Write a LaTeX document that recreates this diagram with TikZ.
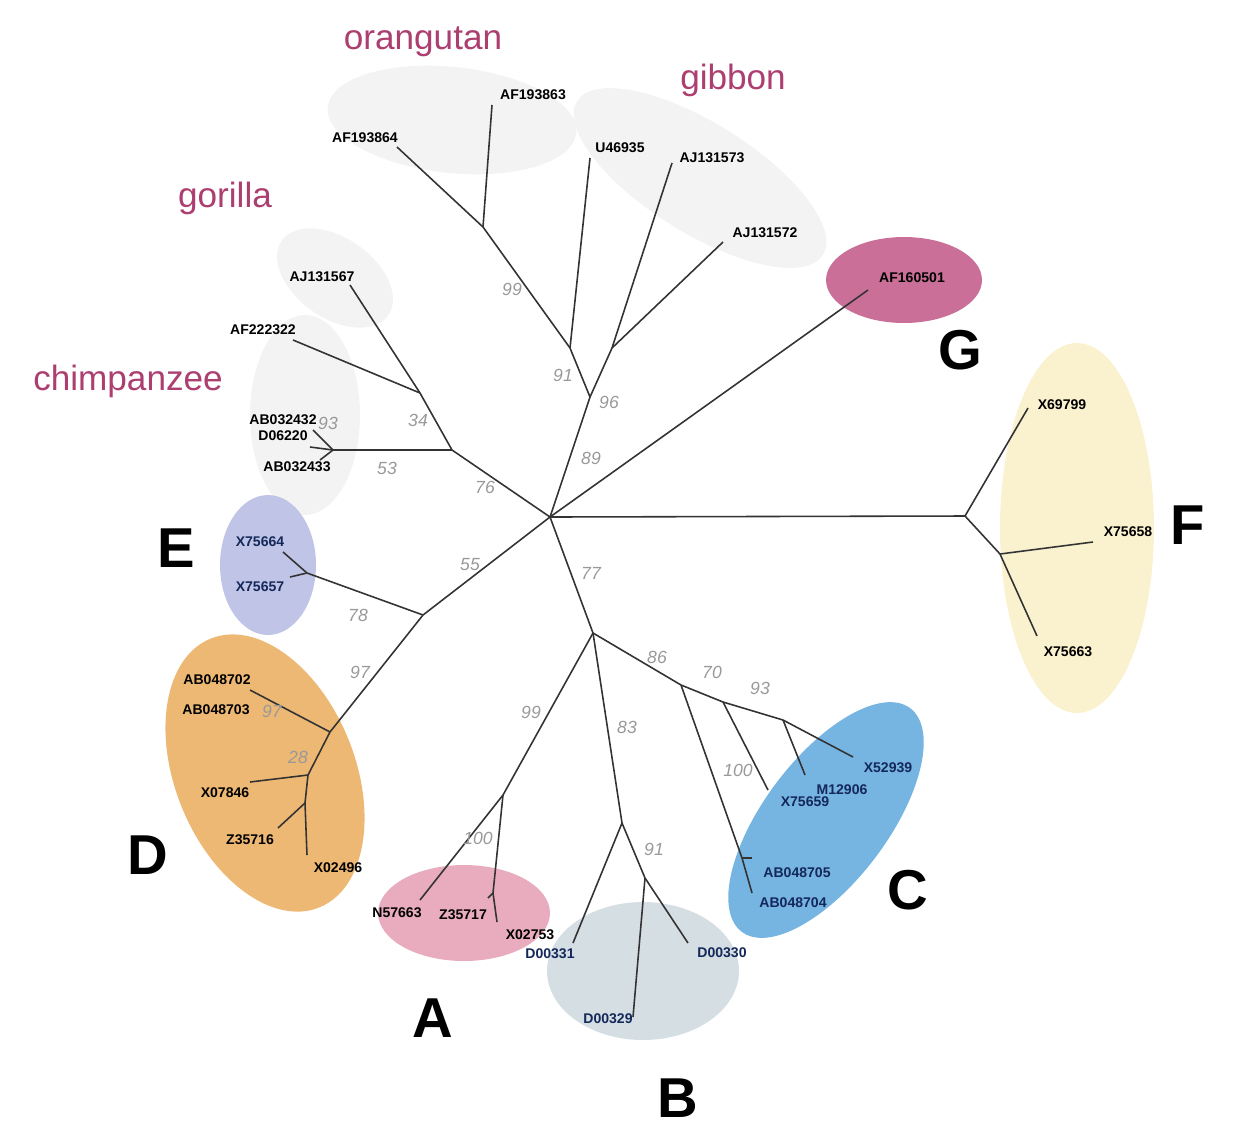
\documentclass[tikz,border=0pt]{standalone}
\usepackage{fontspec}
\setmainfont{Liberation Sans}
\usetikzlibrary{shapes.geometric}

\definecolor{apecol}{RGB}{172,62,112}
\definecolor{hazeA}{RGB}{243,243,244}
\definecolor{colA}{RGB}{232,172,190}
\definecolor{colB}{RGB}{213,222,226}
\definecolor{colC}{RGB}{118,180,226}
\definecolor{colD}{RGB}{236,184,116}
\definecolor{colE}{RGB}{192,196,230}
\definecolor{colF}{RGB}{250,241,206}
\definecolor{colG}{RGB}{202,112,152}
\definecolor{navy}{RGB}{20,40,90}

\begin{document}
\begin{tikzpicture}[x=0.02cm,y=-0.02cm,
    br/.style={draw=black!80,line width=0.9pt},
    leaf/.style={font=\fontsize{8}{9}\selectfont\bfseries,inner sep=0pt},
    boot/.style={font=\fontsize{10}{11}\selectfont\itshape,text=black!40,inner sep=0pt},
    clade/.style={font=\fontsize{32}{36}\selectfont\bfseries,inner sep=0pt},
    ape/.style={font=\fontsize{20}{24}\selectfont,text=apecol,inner sep=0pt},
    blob/.style={ellipse,inner sep=0pt,draw=none}]
    \useasboundingbox (0,0) rectangle (1246,1133);

    \node[blob,fill=hazeA,minimum width=5cm,minimum height=2.12cm,rotate=-6] (bOr) at (452,120) {};
    \node[blob,fill=hazeA,minimum width=5.8cm,minimum height=2.2cm,rotate=-32] (bGib) at (700,178) {};
    \node[blob,fill=hazeA,minimum width=2.6cm,minimum height=1.6cm,rotate=-35] (bGor) at (335,278) {};
    \node[blob,fill=hazeA,minimum width=2.2cm,minimum height=4cm] (bChimp) at (305,415) {};
    \node[blob,fill=colG,minimum width=3.12cm,minimum height=1.72cm] (bG) at (904,280) {};
    \node[blob,fill=colF,minimum width=3.08cm,minimum height=7.4cm] (bF) at (1077,528) {};
    \node[blob,fill=colE,minimum width=1.92cm,minimum height=2.8cm] (bE) at (268,565) {};
    \node[blob,fill=colD,minimum width=3.6cm,minimum height=5.8cm,rotate=22] (bD) at (265,773) {};
    \node[blob,fill=colA,minimum width=3.44cm,minimum height=1.92cm] (bA) at (464,913) {};
    \node[blob,fill=colB,minimum width=3.84cm,minimum height=2.76cm] (bB) at (643,971) {};
    \node[blob,fill=colC,minimum width=5.6cm,minimum height=2.48cm,rotate=53] (bC) at (826,820) {};

    \coordinate (root) at (550,517);
    \coordinate (jF) at (965,516);
    \coordinate (jF2) at (1000,554);
    \coordinate (tX69799) at (1028,408);
    \coordinate (tX75658) at (1093,542);
    \coordinate (tX75663) at (1037,636);
    \coordinate (tAF160501) at (868,290);
    \coordinate (jHom) at (590,397);
    \coordinate (jPon) at (570,348);
    \coordinate (jOr) at (483,227);
    \coordinate (tAF193864) at (397,147);
    \coordinate (tAF193863) at (492,105);
    \coordinate (tU46935) at (590,158);
    \coordinate (jGib) at (612,348);
    \coordinate (tAJ131573) at (672,163);
    \coordinate (tAJ131572) at (723,242);
    \coordinate (jAfr) at (452,450);
    \coordinate (jGor) at (420,393);
    \coordinate (tAJ131567) at (350,285);
    \coordinate (tAF222322) at (293,340);
    \coordinate (jChimp) at (333,450);
    \coordinate (tAB032432) at (313,430);
    \coordinate (tD06220) at (310,447);
    \coordinate (tAB032433) at (320,460);
    \coordinate (jED) at (423,615);
    \coordinate (jE) at (307,573);
    \coordinate (tX75664) at (283,552);
    \coordinate (tX75657) at (290,577);
    \coordinate (jD) at (330,732);
    \coordinate (tAB048702) at (250,690);
    \coordinate (jD2) at (308,775);
    \coordinate (tX07846) at (250,782);
    \coordinate (jD3) at (305,803);
    \coordinate (tZ35716) at (278,828);
    \coordinate (tX02496) at (307,855);
    \coordinate (jLow) at (593,633);
    \coordinate (jA) at (503,795);
    \coordinate (tN57663) at (420,900);
    \coordinate (jZX) at (493,893);
    \coordinate (tZ35717) at (488,898);
    \coordinate (tX02753) at (497,922);
    \coordinate (jB) at (622,823);
    \coordinate (tD00331) at (573,943);
    \coordinate (jB2) at (645,878);
    \coordinate (tD00329) at (633,1017);
    \coordinate (tD00330) at (688,943);
    \coordinate (jC2) at (681,685);
    \coordinate (jC5) at (742,858);
    \coordinate (tAB048705) at (752,858);
    \coordinate (tAB048704) at (752,893);
    \coordinate (jC3) at (723,702);
    \coordinate (tX75659) at (768,790);
    \coordinate (jC4) at (783,720);
    \coordinate (tM12906) at (805,775);
    \coordinate (tX52939) at (853,757);

    \path[br] (root) edge (jF)
              (jF) edge (tX69799)
              (jF) edge (jF2)
              (jF2) edge (tX75658)
              (jF2) edge (tX75663)
              (root) edge (tAF160501)
              (root) edge (jHom)
              (jHom) edge (jPon)
              (jPon) edge (jOr)
              (jOr) edge (tAF193864)
              (jOr) edge (tAF193863)
              (jPon) edge (tU46935)
              (jHom) edge (jGib)
              (jGib) edge (tAJ131573)
              (jGib) edge (tAJ131572)
              (root) edge (jAfr)
              (jAfr) edge (jGor)
              (jGor) edge (tAJ131567)
              (jGor) edge (tAF222322)
              (jAfr) edge (jChimp)
              (jChimp) edge (tAB032432)
              (jChimp) edge (tD06220)
              (jChimp) edge (tAB032433)
              (root) edge (jED)
              (jED) edge (jE)
              (jE) edge (tX75664)
              (jE) edge (tX75657)
              (jED) edge (jD)
              (jD) edge (tAB048702)
              (jD) edge (jD2)
              (jD2) edge (tX07846)
              (jD2) edge (jD3)
              (jD3) edge (tZ35716)
              (jD3) edge (tX02496)
              (root) edge (jLow)
              (jLow) edge (jA)
              (jA) edge (tN57663)
              (jA) edge (jZX)
              (jZX) edge (tZ35717)
              (jZX) edge (tX02753)
              (jLow) edge (jB)
              (jB) edge (tD00331)
              (jB) edge (jB2)
              (jB2) edge (tD00329)
              (jB2) edge (tD00330)
              (jLow) edge (jC2)
              (jC2) edge (jC5)
              (jC5) edge (tAB048705)
              (jC5) edge (tAB048704)
              (jC2) edge (jC3)
              (jC3) edge (tX75659)
              (jC3) edge (jC4)
              (jC4) edge (tM12906)
              (jC4) edge (tX52939);

    \node[leaf] (lX69799) at (1062,405) {X69799};
    \node[leaf] (lX75658) at (1128,532) {X75658};
    \node[leaf] (lX75663) at (1068,652) {X75663};
    \node[leaf] (lAF160501) at (912,278) {AF160501};
    \node[leaf] (lAF193864) at (365,138) {AF193864};
    \node[leaf] (lAF193863) at (533,95) {AF193863};
    \node[leaf] (lU46935) at (620,148) {U46935};
    \node[leaf] (lAJ131573) at (712,158) {AJ131573};
    \node[leaf] (lAJ131572) at (765,233) {AJ131572};
    \node[leaf] (lAJ131567) at (322,277) {AJ131567};
    \node[leaf] (lAF222322) at (263,330) {AF222322};
    \node[leaf] (lAB032432) at (283,420) {AB032432};
    \node[leaf] (lD06220) at (283,436) {D06220};
    \node[leaf] (lAB032433) at (297,467) {AB032433};
    \node[leaf,text=navy] (lX75664) at (260,542) {X75664};
    \node[leaf,text=navy] (lX75657) at (260,587) {X75657};
    \node[leaf] (lAB048702) at (217,680) {AB048702};
    \node[leaf] (lAB048703) at (216,710) {AB048703};
    \node[leaf] (lX07846) at (225,793) {X07846};
    \node[leaf] (lZ35716) at (250,840) {Z35716};
    \node[leaf] (lX02496) at (338,868) {X02496};
    \node[leaf] (lN57663) at (397,913) {N57663};
    \node[leaf] (lZ35717) at (463,915) {Z35717};
    \node[leaf] (lX02753) at (530,935) {X02753};
    \node[leaf,text=navy] (lD00331) at (550,954) {D00331};
    \node[leaf,text=navy] (lD00329) at (608,1019) {D00329};
    \node[leaf,text=navy] (lD00330) at (722,953) {D00330};
    \node[leaf,text=navy] (lAB048705) at (797,873) {AB048705};
    \node[leaf,text=navy] (lAB048704) at (793,903) {AB048704};
    \node[leaf,text=navy] (lX75659) at (805,802) {X75659};
    \node[leaf,text=navy] (lM12906) at (842,790) {M12906};
    \node[leaf,text=navy] (lX52939) at (888,768) {X52939};

    \node[boot] (bs89) at (591,458) {89};
    \node[boot] (bs96) at (609,402) {96};
    \node[boot] (bs91a) at (563,375) {91};
    \node[boot] (bs99a) at (512,289) {99};
    \node[boot] (bs34) at (418,420) {34};
    \node[boot] (bs76) at (485,487) {76};
    \node[boot] (bs93a) at (328,423) {93};
    \node[boot] (bs53) at (387,468) {53};
    \node[boot] (bs55) at (470,565) {55};
    \node[boot] (bs78) at (358,615) {78};
    \node[boot] (bs97a) at (360,672) {97};
    \node[boot] (bs97b) at (272,711) {97};
    \node[boot] (bs28) at (298,757) {28};
    \node[boot] (bs77) at (591,573) {77};
    \node[boot] (bs99b) at (531,712) {99};
    \node[boot] (bs100a) at (478,838) {100};
    \node[boot] (bs83) at (627,727) {83};
    \node[boot] (bs91b) at (654,849) {91};
    \node[boot] (bs86) at (657,657) {86};
    \node[boot] (bs70) at (712,672) {70};
    \node[boot] (bs93b) at (760,688) {93};
    \node[boot] (bs100b) at (738,770) {100};

    \node[ape] (orangutan) at (423,42) {orangutan};
    \node[ape] (gibbon) at (733,80) {gibbon};
    \node[ape] (gorilla) at (225,198) {gorilla};
    \node[ape] (chimpanzee) at (128,381) {chimpanzee};

    \node[clade] (cA) at (433,1018) {A};
    \node[clade] (cB) at (678,1098) {B};
    \node[clade] (cC) at (908,890) {C};
    \node[clade] (cD) at (148,855) {D};
    \node[clade] (cE) at (176,548) {E};
    \node[clade] (cF) at (1188,525) {F};
    \node[clade] (cG) at (960,350) {G};
\end{tikzpicture}
\end{document}
